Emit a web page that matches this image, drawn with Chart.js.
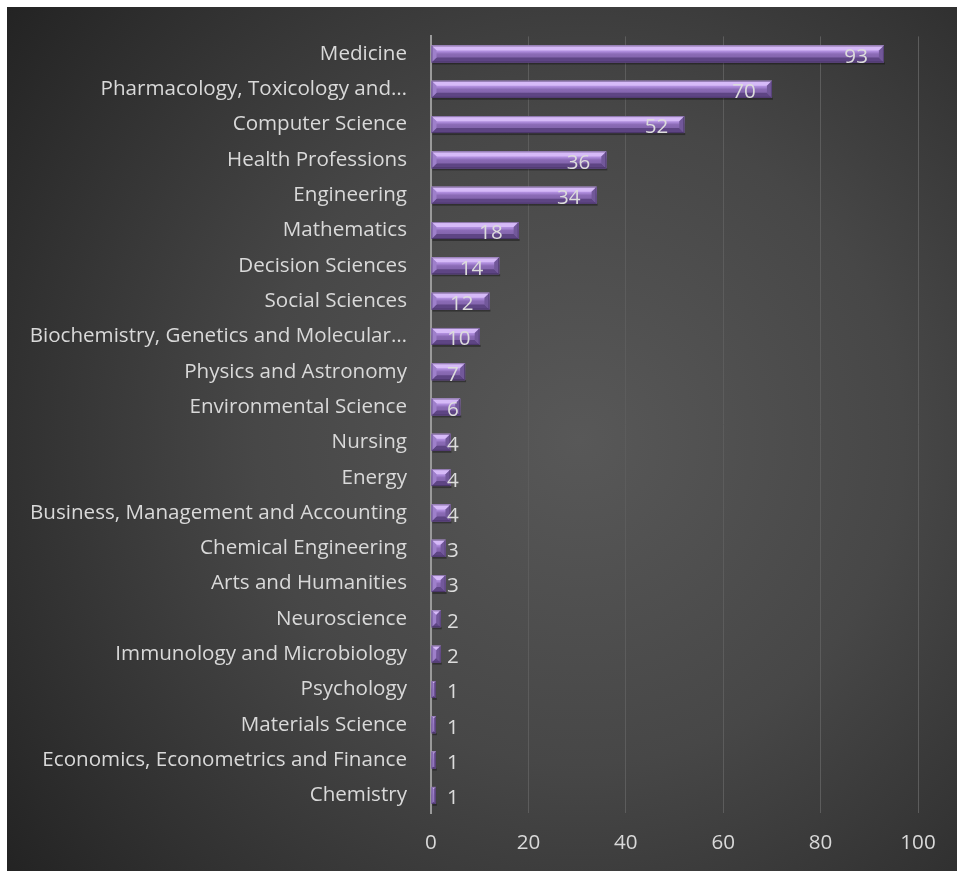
<!DOCTYPE html>
<html>
<head>
<meta charset="utf-8">
<script src="https://cdn.jsdelivr.net/npm/chart.js@4.4.1/dist/chart.umd.min.js"></script>
<style>
html,body{margin:0;padding:0;background:#fff;}
#wrap{width:957px;height:871px;position:relative;}
</style>
</head>
<body>
<div id="wrap"><canvas id="c" width="957" height="871"></canvas></div>
<script>
const categories = [
  "Medicine",
  "Pharmacology, Toxicology and…",
  "Computer Science",
  "Health Professions",
  "Engineering",
  "Mathematics",
  "Decision Sciences",
  "Social Sciences",
  "Biochemistry, Genetics and Molecular…",
  "Physics and Astronomy",
  "Environmental Science",
  "Nursing",
  "Energy",
  "Business, Management and Accounting",
  "Chemical Engineering",
  "Arts and Humanities",
  "Neuroscience",
  "Immunology and Microbiology",
  "Psychology",
  "Materials Science",
  "Economics, Econometrics and Finance",
  "Chemistry"
];
const documentCounts = [93, 70, 52, 36, 34, 18, 14, 12, 10, 7, 6, 4, 4, 4, 3, 3, 2, 2, 1, 1, 1, 1];
const xTicks = [0, 20, 40, 60, 80, 100];

const FONT = "'Open Sans', 'Noto Sans', sans-serif";
const FS = 20.6;

const bgPlugin = {
  id: 'bg',
  beforeDraw(chart) {
    const ctx = chart.ctx;
    const W = chart.width, H = chart.height;
    ctx.save();
    ctx.fillStyle = '#ffffff';
    ctx.fillRect(0, 0, W, H);
    const cx = 580, cy = 440;
    const g = ctx.createRadialGradient(cx, cy, 0, cx, cy, 720);
    g.addColorStop(0, '#585858');
    g.addColorStop(0.45, '#474747');
    g.addColorStop(1, '#232323');
    ctx.fillStyle = g;
    ctx.fillRect(7, 7, W - 7, H - 7);
    ctx.restore();
  }
};

const bevelPlugin = {
  id: 'bevel',
  afterDatasetsDraw(chart) {
    const ctx = chart.ctx;
    const meta = chart.getDatasetMeta(0);
    ctx.save();
    meta.data.forEach((el) => {
      const p = el.getProps(['x', 'y', 'base', 'height'], true);
      const xs = p.base, xe = p.x, h = p.height;
      const yt = p.y - h / 2, yb = p.y + h / 2;
      const w = xe - xs;
      const b = Math.min(5, w / 2);
      ctx.fillStyle = 'rgba(0,0,0,0.35)';
      ctx.fillRect(xs + 1, yb, w, 2);
      const g = ctx.createLinearGradient(0, yt, 0, yb);
      g.addColorStop(0, '#c8a6f0');
      g.addColorStop(0.35, '#ae8cdc');
      g.addColorStop(0.5, '#8b6bb6');
      g.addColorStop(1, '#785ca0');
      ctx.fillStyle = g;
      ctx.fillRect(xs, yt, w, h);
      ctx.fillStyle = '#d6baf8';
      ctx.beginPath();
      ctx.moveTo(xs, yt); ctx.lineTo(xe, yt); ctx.lineTo(xe - b, yt + b); ctx.lineTo(xs + b, yt + b);
      ctx.closePath(); ctx.fill();
      ctx.fillStyle = '#5e4584';
      ctx.beginPath();
      ctx.moveTo(xs, yb); ctx.lineTo(xe, yb); ctx.lineTo(xe - b, yb - b); ctx.lineTo(xs + b, yb - b);
      ctx.closePath(); ctx.fill();
      ctx.fillStyle = '#72589a';
      ctx.beginPath();
      ctx.moveTo(xe, yt); ctx.lineTo(xe, yb); ctx.lineTo(xe - b, yb - b); ctx.lineTo(xe - b, yt + b);
      ctx.closePath(); ctx.fill();
      ctx.fillStyle = '#9e80ca';
      ctx.beginPath();
      ctx.moveTo(xs, yt); ctx.lineTo(xs, yb); ctx.lineTo(xs + b, yb - b); ctx.lineTo(xs + b, yt + b);
      ctx.closePath(); ctx.fill();
      ctx.strokeStyle = 'rgba(50,35,75,0.45)';
      ctx.lineWidth = 1;
      ctx.strokeRect(xs + 0.5, yt + 0.5, Math.max(w - 1, 0), h - 1);
    });
    ctx.restore();
  }
};

const labelPlugin = {
  id: 'valueLabels',
  afterDatasetsDraw(chart) {
    const ctx = chart.ctx;
    const meta = chart.getDatasetMeta(0);
    const axisX = chart.scales.x.getPixelForValue(0);
    ctx.save();
    ctx.font = FS + 'px ' + FONT;
    ctx.fillStyle = '#dcdcdc';
    ctx.textBaseline = 'middle';
    ctx.textAlign = 'left';
    meta.data.forEach((el, i) => {
      const txt = String(documentCounts[i]);
      const tw = ctx.measureText(txt).width;
      let left = el.x - 16 - tw;
      if (left < axisX + 16) left = axisX + 16;
      ctx.fillText(txt, left, el.y + 3);
    });
    ctx.restore();
  }
};

new Chart(document.getElementById('c'), {
  type: 'bar',
  data: {
    labels: categories,
    datasets: [{
      data: documentCounts,
      backgroundColor: '#8467ad',
      borderWidth: 0,
      categoryPercentage: 1,
      barPercentage: 0.48
    }]
  },
  options: {
    indexAxis: 'y',
    responsive: false,
    animation: false,
    devicePixelRatio: 1,
    layout: { padding: { left: 7, right: 39, top: 36, bottom: 0 } },
    plugins: { legend: { display: false }, tooltip: { enabled: false } },
    scales: {
      x: {
        min: 0, max: 100,
        afterBuildTicks(scale) { scale.ticks = xTicks.map(v => ({ value: v })); },
        afterFit(scale) { scale.height = 58; },
        grid: { color: '#5c5c5c', lineWidth: 1, drawTicks: false },
        border: { display: false },
        ticks: { color: '#d9d9d9', font: { family: FONT, size: FS }, padding: 18 }
      },
      y: {
        afterFit(scale) { scale.width = 424; },
        grid: { display: false, drawTicks: false },
        border: { display: true, color: '#9a9a9a', width: 2 },
        ticks: { color: '#d9d9d9', font: { family: FONT, size: FS }, padding: 24, autoSkip: false }
      }
    }
  },
  plugins: [bgPlugin, bevelPlugin, labelPlugin]
});
</script>
</body>
</html>
